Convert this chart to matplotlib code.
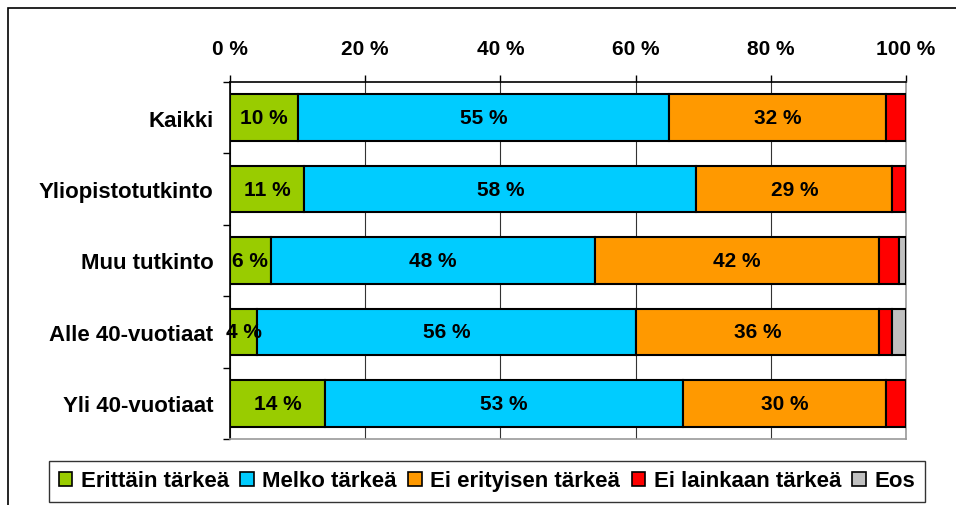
import numpy as np
import matplotlib.pyplot as plt
from matplotlib.patches import Rectangle, Patch

plt.rcParams['font.family'] = ['Liberation Sans', 'DejaVu Sans']

groups = ['Kaikki', 'Yliopistotutkinto', 'Muu tutkinto', 'Alle 40-vuotiaat', 'Yli 40-vuotiaat']
series = ['Erittäin tärkeä', 'Melko tärkeä', 'Ei erityisen tärkeä', 'Ei lainkaan tärkeä', 'Eos']
colors = ['#99CC00', '#00CCFF', '#FF9900', '#FF0000', '#C0C0C0']

erittain = [10, 11, 6, 4, 14]
melko = [55, 58, 48, 56, 53]
ei_erityisen = [32, 29, 42, 36, 30]
ei_lainkaan = [3, 2, 3, 2, 3]
eos = [0, 0, 1, 2, 0]
values = [erittain, melko, ei_erityisen, ei_lainkaan, eos]
labelled = [True, True, True, False, False]

fig = plt.figure(figsize=(9.56, 5.06), dpi=100)
fig.patches.append(Rectangle((8 / 956, -0.1), 1.1, 1 - 9 / 506 + 0.1, transform=fig.transFigure,
                             fill=False, edgecolor='black', linewidth=1.2))

ax = fig.add_axes([230 / 956, 1 - 440 / 506, 676 / 956, 357 / 506])
y = np.arange(len(groups))
left = np.zeros(len(groups))
for vals, col, name, lab in zip(values, colors, series, labelled):
    vals = np.array(vals, dtype=float)
    ax.barh(y, vals, left=left, height=0.65, color=col, edgecolor='black',
            linewidth=1.5, label=name, zorder=3)
    if lab:
        for yi, l, v in zip(y, left, vals):
            ax.text(l + v / 2, yi, f'{v:.0f} %', ha='center', va='center',
                    fontsize=15, fontweight='bold', zorder=4)
    left += vals

ax.set_xlim(0, 100)
ax.set_ylim(4.5, -0.5)
ax.xaxis.tick_top()
ax.set_xticks(np.arange(0, 101, 20))
ax.set_xticklabels([f'{v} %' for v in range(0, 101, 20)], fontsize=15, fontweight='bold')
ax.tick_params(axis='x', length=5, width=1, pad=12, color='black')
ax.set_yticks(y)
ax.set_yticklabels(groups, fontsize=16, fontweight='bold')
ax.set_yticks(np.arange(-0.5, 5, 1), minor=True)
ax.tick_params(axis='y', which='major', length=0, pad=12)
ax.tick_params(axis='y', which='minor', length=5, width=1, color='black')
ax.grid(axis='x', color='#333333', linewidth=0.8, zorder=0)
ax.spines['top'].set_color('black')
ax.spines['left'].set_color('black')
ax.spines['right'].set_color('#999999')
ax.spines['bottom'].set_color('#999999')
for s in ax.spines.values():
    s.set_linewidth(1.2)

handles = [Patch(facecolor=c, edgecolor='black', linewidth=1.2) for c in colors]
leg = fig.legend(handles, series, loc='center', bbox_to_anchor=(487 / 956, 1 - 482 / 506),
                 ncol=5, frameon=True, fancybox=False, edgecolor='black',
                 prop={'weight': 'bold', 'size': 16}, handlelength=0.6, handleheight=0.6,
                 handletextpad=0.4, columnspacing=0.5, borderpad=0.45)
leg.get_frame().set_linewidth(1.0)

fig.savefig('out.png', dpi=100)
